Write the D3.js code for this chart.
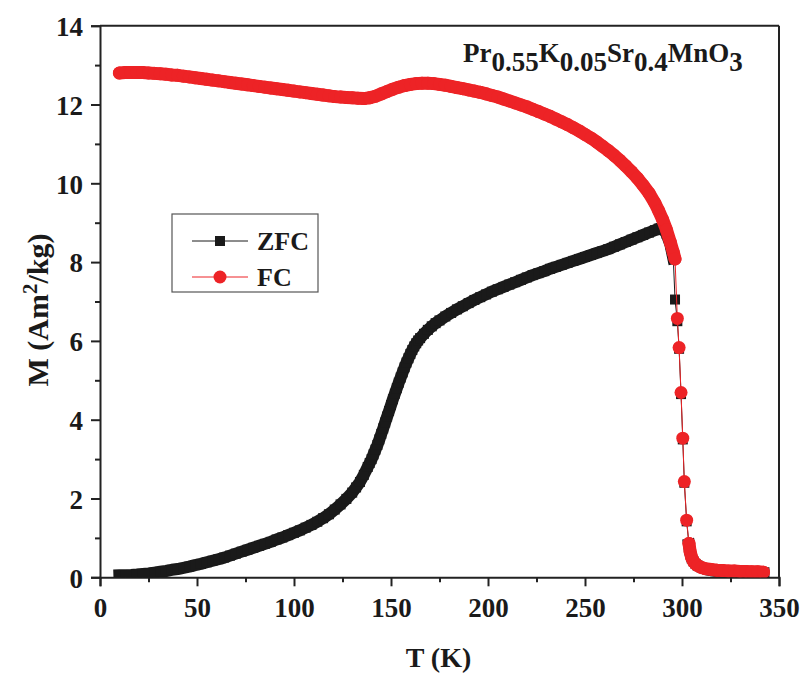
<!DOCTYPE html>
<html>
<head>
<meta charset="utf-8">
<script src="https://cdn.jsdelivr.net/npm/d3@7"></script>
<style>
  html, body { margin: 0; padding: 0; background: #fff; }
  svg { display: block; }
</style>
</head>
<body>
<svg id="chart" width="806" height="675"></svg>
<script>
// ---------- data ----------
const zfcT = [10,13,16,19,22,25,28,31,34,37,40,43,46,49,52,55,58,61,64,67,70,73,76,79,82,85,88,91,94,97,100,103,106,109,112,115,118,121,124,127,130,132,134,136,138,139,140,141,142,143,144,145,146,147,148,149,150,151,152,153,154,155,156,157,158,159,160,161,162,163,164,165,167,169,171,173,175,178,181,184,187,190,193,196,199,202,205,208,211,214,217,220,223,226,229,232,235,238,241,244,247,250,253,256,259,262,265,268,271,274,277,280,283,286,288,290,292,294,295.5,296.4,297.6,298.5,299.5,300.4,301.2,302.4,303.6,304.2,305,306,307,308,310,312,315,318,321,324,327,330,333,336,339,342];
const zfcM = [0.05,0.055,0.06,0.07,0.085,0.1,0.12,0.14,0.16,0.19,0.21,0.24,0.27,0.31,0.34,0.38,0.42,0.46,0.5,0.55,0.6,0.65,0.7,0.75,0.8,0.85,0.9,0.96,1.01,1.07,1.13,1.19,1.26,1.33,1.41,1.5,1.6,1.72,1.85,1.99,2.15,2.28,2.42,2.6,2.8,2.9,3.0,3.12,3.24,3.36,3.5,3.64,3.78,3.93,4.08,4.22,4.37,4.52,4.66,4.8,4.94,5.07,5.2,5.33,5.45,5.56,5.67,5.77,5.86,5.94,6.01,6.07,6.18,6.28,6.37,6.45,6.52,6.62,6.71,6.8,6.88,6.96,7.04,7.11,7.18,7.25,7.31,7.37,7.43,7.49,7.55,7.61,7.67,7.72,7.77,7.83,7.88,7.93,7.98,8.03,8.08,8.13,8.18,8.23,8.28,8.33,8.39,8.45,8.51,8.57,8.63,8.69,8.75,8.81,8.85,8.84,8.72,8.45,8.1,7.05,6.5,5.8,4.65,3.5,2.4,1.42,0.83,0.62,0.48,0.4,0.34,0.3,0.25,0.21,0.18,0.16,0.14,0.13,0.12,0.12,0.11,0.11,0.1,0.1];

const fcT = [10,13,16,19,22,25,28,31,34,37,40,43,46,49,52,55,58,61,64,67,70,73,76,79,82,85,88,91,94,97,100,103,106,109,112,115,118,121,124,127,130,133,136,139,142,145,148,151,154,157,160,163,166,169,172,175,178,181,184,187,190,193,196,199,202,205,208,211,214,217,220,223,226,229,232,235,238,241,244,247,250,253,256,259,262,265,268,271,274,277,280,283,286,288,290,292,294,295.5,296.4,297.6,298.5,299.5,300.4,301.2,302.4,303.6,304.2,305,306,307,308,310,312,315,318,321,324,327,330,333,336,339,342];
const fcM = [12.8,12.81,12.81,12.81,12.81,12.8,12.79,12.78,12.77,12.75,12.74,12.72,12.7,12.68,12.66,12.64,12.62,12.6,12.58,12.56,12.54,12.52,12.5,12.48,12.46,12.44,12.42,12.4,12.38,12.36,12.34,12.32,12.3,12.28,12.26,12.24,12.22,12.2,12.19,12.18,12.17,12.16,12.15,12.17,12.21,12.27,12.33,12.39,12.44,12.48,12.51,12.53,12.54,12.54,12.53,12.51,12.49,12.46,12.43,12.4,12.37,12.34,12.31,12.27,12.23,12.19,12.14,12.09,12.04,11.99,11.94,11.88,11.82,11.76,11.7,11.63,11.56,11.49,11.41,11.33,11.24,11.15,11.05,10.94,10.83,10.71,10.58,10.44,10.29,10.13,9.95,9.75,9.5,9.3,9.08,8.82,8.5,8.25,8.08,6.57,5.83,4.69,3.53,2.43,1.45,0.86,0.65,0.5,0.4,0.34,0.3,0.25,0.22,0.2,0.18,0.17,0.16,0.16,0.15,0.15,0.14,0.14,0.13];

const xTicks = [0,50,100,150,200,250,300,350];
const xMinor = [25,75,125,175,225,275,325];
const yTicks = [0,2,4,6,8,10,12,14];
const yMinor = [1,3,5,7,9,11,13];
const seriesNames = ["ZFC","FC"];
const titleParts = [["Pr",0],["0.55",1],["K",0],["0.05",1],["Sr",0],["0.4",1],["MnO",0],["3",1]];
const xTitle = "T (K)";

// ---------- layout ----------
const svg = d3.select("#chart");
const W = 806, H = 675;
const L = 100, R = 779, T = 25.7, B = 577.3;
const font = "'Liberation Serif','Times New Roman',Times,serif";
const RED = "#ed2326", BLK = "#1a1a1a", AX = "#222";

svg.append("rect").attr("width", W).attr("height", H).attr("fill", "#fff");

const x = d3.scaleLinear().domain([0, 350]).range([L, R]);
const y = d3.scaleLinear().domain([0, 14]).range([B, T]);

svg.append("defs").append("clipPath").attr("id", "clip")
  .append("rect").attr("x", L).attr("y", T).attr("width", R - L).attr("height", B - T);

// ---------- axes ----------
function styleAxis(g) {
  g.selectAll("path").attr("stroke", AX).attr("stroke-width", 2);
  g.selectAll("line").attr("stroke", AX).attr("stroke-width", 2);
  g.selectAll("text").attr("font-family", font).attr("font-weight", "bold")
    .attr("font-size", 27).attr("fill", "#1a1a1a");
}

const gx = svg.append("g").attr("transform", `translate(0,${B})`)
  .call(d3.axisBottom(x).tickValues(xTicks).tickFormat(d3.format("d")).tickSizeOuter(0).tickSize(9).tickPadding(6));
styleAxis(gx);
gx.selectAll("text").attr("dy", "0.9em");
svg.append("g").attr("transform", `translate(0,${B})`)
  .call(d3.axisBottom(x).tickValues(xMinor).tickFormat("").tickSize(5).tickSizeOuter(0))
  .call(g => { g.select("path").remove(); g.selectAll("line").attr("stroke", AX).attr("stroke-width", 2); });

const gy = svg.append("g").attr("transform", `translate(${L},0)`)
  .call(d3.axisLeft(y).tickValues(yTicks).tickFormat(d3.format("d")).tickSizeOuter(0).tickSize(9).tickPadding(8));
styleAxis(gy);
gy.selectAll("text").attr("dy", "0.36em");
svg.append("g").attr("transform", `translate(${L},0)`)
  .call(d3.axisLeft(y).tickValues(yMinor).tickFormat("").tickSize(5).tickSizeOuter(0))
  .call(g => { g.select("path").remove(); g.selectAll("line").attr("stroke", AX).attr("stroke-width", 2); });

// top and right frame
svg.append("line").attr("x1", L).attr("x2", R).attr("y1", T).attr("y2", T).attr("stroke", AX).attr("stroke-width", 2);
svg.append("line").attr("x1", R).attr("x2", R).attr("y1", T).attr("y2", B).attr("stroke", AX).attr("stroke-width", 2);

// axis titles
svg.append("text").attr("x", (L + R) / 2 - 1).attr("y", 667)
  .attr("text-anchor", "middle").attr("font-family", font).attr("font-weight", "bold")
  .attr("font-size", 28).attr("fill", "#1a1a1a").text(xTitle);

const yl = svg.append("text").attr("transform", `translate(48,310) rotate(-90)`)
  .attr("text-anchor", "middle").attr("font-family", font).attr("font-weight", "bold")
  .attr("font-size", 30).attr("fill", "#1a1a1a");
yl.append("tspan").text("M (Am");
yl.append("tspan").attr("dy", -11).attr("font-size", 21).text("2");
yl.append("tspan").attr("dy", 11).text("/kg)");

// ---------- series ----------
const zfc = zfcT.map((t, i) => ({ t, m: zfcM[i] }));
const fc = fcT.map((t, i) => ({ t, m: fcM[i] }));
const line = d3.line().x(d => x(d.t)).y(d => y(d.m));
const plot = svg.append("g").attr("clip-path", "url(#clip)");

// where neighbouring markers overlap, fill the gap with a band of marker width
function bands(data, gap) {
  const segs = [];
  let cur = [data[0]];
  for (let i = 1; i < data.length; i++) {
    const a = data[i - 1], b = data[i];
    const d = Math.hypot(x(b.t) - x(a.t), y(b.m) - y(a.m));
    if (d < gap) cur.push(b);
    else { if (cur.length > 1) segs.push(cur); cur = [b]; }
  }
  if (cur.length > 1) segs.push(cur);
  return segs;
}

function drawSeries(data, color, width, shape) {
  plot.selectAll(null).data(bands(data, 15)).join("path").attr("d", line)
    .attr("fill", "none").attr("stroke", color).attr("stroke-width", width)
    .attr("stroke-linejoin", "round").attr("stroke-linecap", shape === "sq" ? "square" : "round");
  plot.append("path").datum(data).attr("d", line).attr("fill", "none").attr("stroke", color).attr("stroke-width", 1);
  if (shape === "sq") {
    plot.selectAll(null).data(data).join("rect")
      .attr("x", d => x(d.t) - 5).attr("y", d => y(d.m) - 5).attr("width", 10).attr("height", 10).attr("fill", color);
  } else {
    plot.selectAll(null).data(data).join("circle")
      .attr("cx", d => x(d.t)).attr("cy", d => y(d.m)).attr("r", 6.5).attr("fill", color);
  }
}
drawSeries(zfc, BLK, 12, "sq");
drawSeries(fc, RED, 13, "ci");

// ---------- title ----------
const tt = svg.append("text").attr("x", 463).attr("y", 62).attr("font-family", font)
  .attr("font-weight", "bold").attr("font-size", 27).attr("fill", "#1a1a1a");
let prev = 0;
titleParts.forEach(([s, sub]) => {
  const shift = sub ? 9 : 0;
  tt.append("tspan").attr("dy", shift - prev).text(s);
  prev = shift;
});

// ---------- legend ----------
const lg = svg.append("g");
lg.append("rect").attr("x", 172).attr("y", 214).attr("width", 146).attr("height", 78)
  .attr("fill", "#fff").attr("stroke", "#555").attr("stroke-width", 1.2);
const rows = [{ name: seriesNames[0], c: BLK, y: 241, shape: "sq" }, { name: seriesNames[1], c: RED, y: 277, shape: "ci" }];
rows.forEach(r => {
  lg.append("line").attr("x1", 192).attr("x2", 248).attr("y1", r.y).attr("y2", r.y).attr("stroke", r.c).attr("stroke-width", 1);
  if (r.shape === "sq") lg.append("rect").attr("x", 215).attr("y", r.y - 5).attr("width", 10).attr("height", 10).attr("fill", r.c);
  else lg.append("circle").attr("cx", 220).attr("cy", r.y).attr("r", 6.5).attr("fill", r.c);
  lg.append("text").attr("x", 257).attr("y", r.y + 9).attr("font-family", font).attr("font-weight", "bold")
    .attr("font-size", 26).attr("fill", "#1a1a1a").text(r.name);
});
</script>
</body>
</html>
